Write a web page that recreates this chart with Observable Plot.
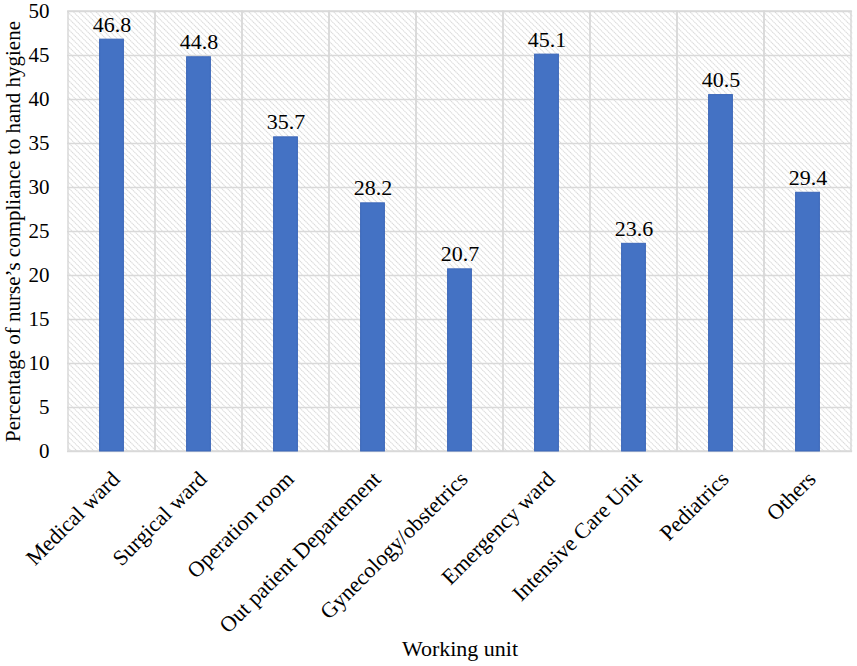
<!DOCTYPE html>
<html>
<head>
<meta charset="utf-8">
<script src="https://cdn.jsdelivr.net/npm/d3@7"></script>
<script src="https://cdn.jsdelivr.net/npm/@observablehq/plot@0.6"></script>
<style>
  body { margin: 0; background: #fff; }
  #chart svg, #chart svg text { font-family: "Liberation Serif", "Times New Roman", serif; }
</style>
</head>
<body>
<div id="chart"></div>
<script>
const units = ["Medical ward", "Surgical ward", "Operation room", "Out patient Departement", "Gynecology/obstetrics", "Emergency ward", "Intensive Care Unit", "Pediatrics", "Others"];
const values = [46.8, 44.8, 35.7, 28.2, 20.7, 45.1, 23.6, 40.5, 29.4];
const yTicks = [0, 5, 10, 15, 20, 25, 30, 35, 40, 45, 50];

const data = units.map((u, i) => ({unit: u, value: values[i]}));

const chart = Plot.plot({
  width: 857,
  height: 666,
  marginTop: 11,
  marginBottom: 215,
  marginLeft: 67,
  marginRight: 5,
  style: {fontFamily: "'Liberation Serif', 'Times New Roman', serif", fontSize: "21px", color: "#000", background: "#fff"},
  x: {domain: units, padding: 0},
  y: {domain: [0, 50]},
  marks: [
    Plot.frame({fill: "url(#hatch)", stroke: "none"}),
    Plot.ruleY(yTicks, {stroke: "#d9d9d9", strokeWidth: 1.5}),
    Plot.barY(data, {x: "unit", y1: 0, y2: 50, fill: "none", stroke: "#d9d9d9", strokeWidth: 1.5}),
    Plot.barY(data, {x: "unit", y: "value", fill: "#4472C4", stroke: "#3b66b8", strokeWidth: 1, insetLeft: 31.6, insetRight: 31.6}),
    Plot.text(data, {x: "unit", y: "value", text: d => d.value.toFixed(1), lineAnchor: "bottom", dy: -8, fontSize: 22, fill: "#000"}),
    Plot.axisY({ticks: yTicks, tickSize: 0, tickPadding: 18, fontSize: 21, label: "Percentage of nurse\u2019s compliance to hand hygiene", labelAnchor: "center", labelArrow: "none", labelOffset: 62}),
    Plot.axisX({tickSize: 0, tickPadding: 24, dx: 4, tickRotate: -45, fontSize: 22, label: "Working unit", labelAnchor: "center", labelArrow: "none", labelOffset: 204})
  ]
});

const defs = d3.select(chart).insert("defs", ":first-child");
const pat = defs.append("pattern")
  .attr("id", "hatch")
  .attr("patternUnits", "userSpaceOnUse")
  .attr("width", 4)
  .attr("height", 4)
  .attr("patternTransform", "rotate(45)");
pat.append("rect").attr("width", 4).attr("height", 4).attr("fill", "#ffffff");
pat.append("line").attr("x1", 0).attr("y1", 0.5).attr("x2", 4).attr("y2", 0.5)
  .attr("stroke", "#d6d6d6").attr("stroke-width", 1).attr("stroke-dasharray", "1.4 0.6");

document.getElementById("chart").appendChild(chart);
</script>
</body>
</html>
